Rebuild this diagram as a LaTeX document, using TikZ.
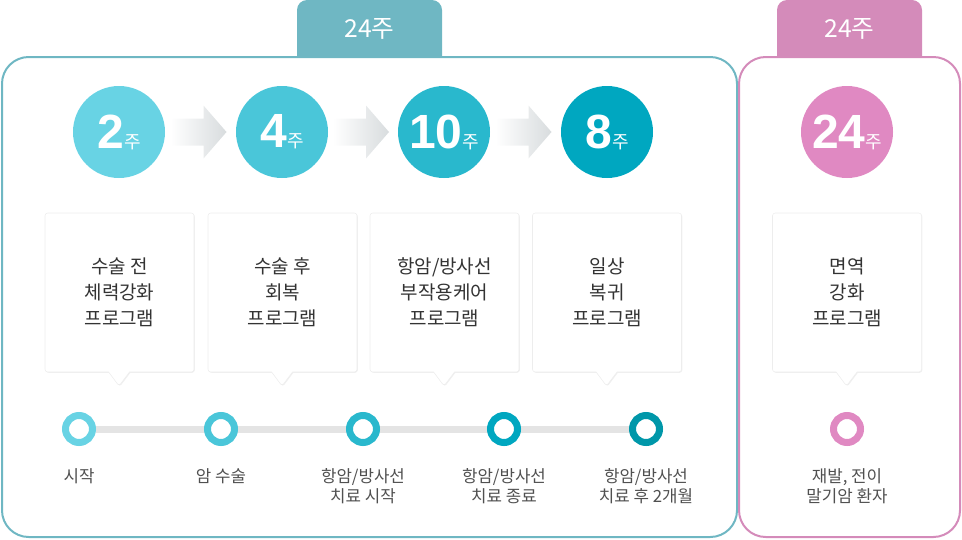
\documentclass[tikz,border=0pt]{standalone}
\usepackage{fontspec}
\setmainfont{Noto Sans CJK KR}
\newfontfamily\numfont{Liberation Sans}
\usetikzlibrary{calc, positioning, shapes.callouts, shadows, backgrounds}

\definecolor{frameteal}{HTML}{6FB7C3}
\definecolor{framepink}{HTML}{D48BBA}
\definecolor{wkA}{HTML}{68D3E4}
\definecolor{wkB}{HTML}{4AC6D9}
\definecolor{wkC}{HTML}{29B8CD}
\definecolor{wkD}{HTML}{00A7C0}
\definecolor{wkE}{HTML}{0097A9}
\definecolor{wkP}{HTML}{E089C2}
\definecolor{txtdark}{HTML}{333333}
\definecolor{txtgray}{HTML}{505050}
\definecolor{trackgray}{HTML}{E4E4E4}
\definecolor{arrowgray}{HTML}{D8DCDE}

\newcommand{\wk}[1]{{\numfont\bfseries\fontsize{36}{36}\selectfont #1}{\fontsize{13.5}{13.5}\selectfont 주}}

\tikzset{
  pics/flowarrow/.style={code={
    \shade[left color=white, right color=arrowgray]
      (-28,-13.5) -- (5,-13.5) -- (5,-26.5) -- (28,0) -- (5,26.5) -- (5,13.5) -- (-28,13.5) -- cycle;
  }}
}

\begin{document}
\begin{tikzpicture}[x=0.75pt, y=-0.75pt,
  week/.style={circle, minimum size=69pt, inner sep=0pt, text=white},
  ring/.style={circle, draw, line width=5.25pt, fill=white, minimum size=20.25pt, inner sep=0pt},
  balloon/.style={rectangle callout, fill=white, draw=black!7, rounded corners=2pt,
    minimum width=111.75pt, minimum height=119.25pt, inner sep=0pt,
    callout pointer width=15.75pt,
    drop shadow={shadow xshift=0.6pt, shadow yshift=-0.6pt, opacity=0.12},
    align=center, text=txtdark, font=\fontsize{14.25}{19.5}\selectfont},
  milestone/.style={align=center, text=txtgray, inner sep=0pt, font=\fontsize{12.6}{15}\selectfont},
  tabtext/.style={text=white, font=\fontsize{18.5}{18.5}\selectfont}]

  \useasboundingbox (0,0) rectangle (962,539);

  % period tabs
  \fill[frameteal, rounded corners=7.5pt] (297,57) |- (369.5,0) -| (442,57);
  \node[tabtext] (tabA) at (369.5,29) {24주};
  \fill[framepink, rounded corners=7.5pt] (777,57) |- (849.5,0) -| (922,57);
  \node[tabtext] (tabB) at (849.5,29) {24주};

  % frames
  \draw[frameteal, line width=1.5pt, rounded corners=20pt] (2,57) rectangle (737,537);
  \draw[framepink, line width=1.5pt, rounded corners=20pt] (739,57) rectangle (960,537);

  % weeks
  \node[week, fill=wkA] (w1) at (119,132) {\wk{2}};
  \node[week, fill=wkB] (w2) at (282,132) {\wk{4}};
  \node[week, fill=wkC] (w3) at (444,132) {\wk{10}};
  \node[week, fill=wkD] (w4) at (607,132) {\wk{8}};
  \node[week, fill=wkP] (w5) at (847,132) {\wk{24}};

  \pic at ($(w1.east)!0.5!(w2.west)+(-2,0)$) {flowarrow};
  \pic at ($(w2.east)!0.5!(w3.west)+(-2,0)$) {flowarrow};
  \pic at ($(w3.east)!0.5!(w4.west)+(-2,0)$) {flowarrow};

  % programs
  \node[balloon, callout absolute pointer={(119,386)}] (b1) at (119.5,292.5) {수술 전\\체력강화\\프로그램};
  \node[balloon, callout absolute pointer={(282,386)}] (b2) at (282.5,292.5) {수술 후\\회복\\프로그램};
  \node[balloon, callout absolute pointer={(444,386)}] (b3) at (444.5,292.5) {항암/방사선\\부작용케어\\프로그램};
  \node[balloon, callout absolute pointer={(606.5,386)}] (b4) at (607,292.5) {일상\\복귀\\프로그램};
  \node[balloon, callout absolute pointer={(846.5,386)}] (b5) at (847,292.5) {면역\\강화\\프로그램};

  % timeline
  \node[ring, draw=wkA] (t1) at (79,429) {};
  \node[ring, draw=wkB] (t2) at (221,429) {};
  \node[ring, draw=wkC] (t3) at (363,429) {};
  \node[ring, draw=wkD] (t4) at (504,429) {};
  \node[ring, draw=wkE] (t5) at (646,429) {};
  \node[ring, draw=wkP] (t6) at (847,429) {};
  \begin{scope}[on background layer]
    \draw[trackgray, line width=5.25pt] (t1) -- (t5);
  \end{scope}

  \node[milestone, below=17pt of t1] (l1) {시작};
  \node[milestone, below=17pt of t2] (l2) {암 수술};
  \node[milestone, below=17pt of t3] (l3) {항암/방사선\\치료 시작};
  \node[milestone, below=17pt of t4] (l4) {항암/방사선\\치료 종료};
  \node[milestone, below=17pt of t5] (l5) {항암/방사선\\치료 후 2개월};
  \node[milestone, below=17pt of t6] (l6) {재발, 전이\\말기암 환자};
\end{tikzpicture}
\end{document}
